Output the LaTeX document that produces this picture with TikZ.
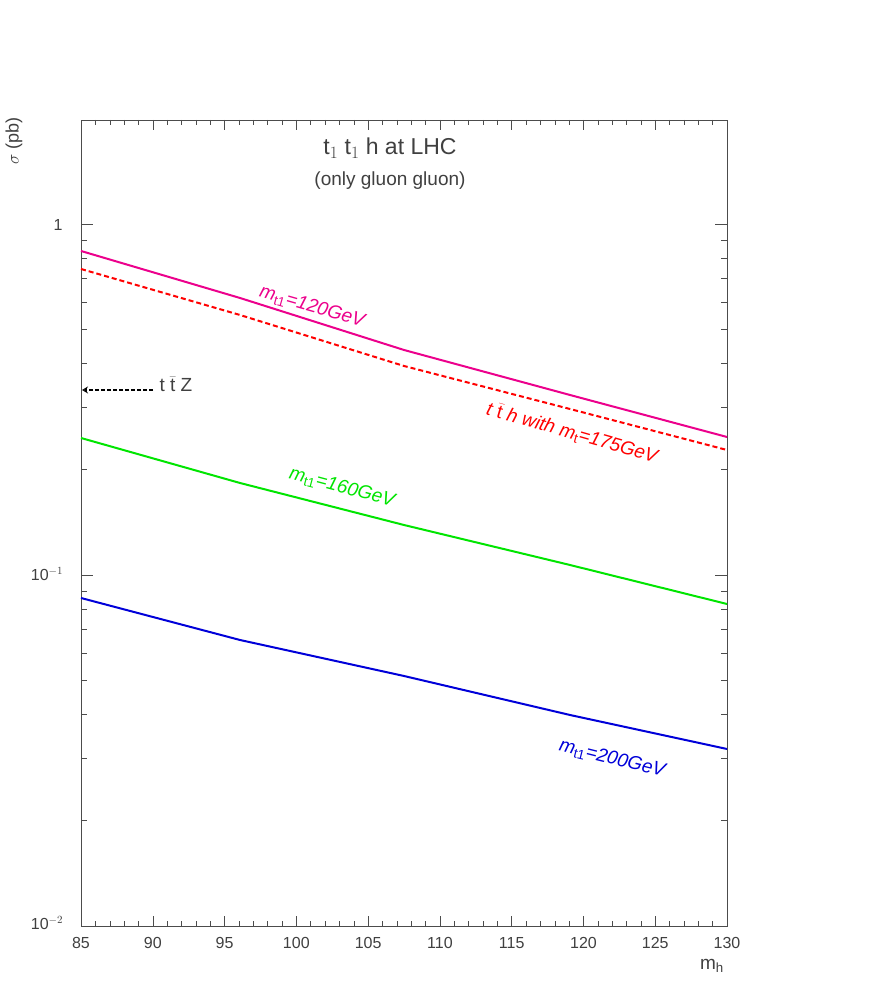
\documentclass[tikz,border=0pt]{standalone}
\usepackage{fontspec}
\setmainfont{Liberation Sans}
\usetikzlibrary{arrows.meta}
\begin{document}
\begin{tikzpicture}[x=1pt,y=1pt,
  ax/.style={draw=black!70,line width=0.6pt},
  lbl/.style={text=black!75,font=\fontsize{16}{18}\selectfont},
  clbl/.style={font=\fontsize{19}{21}\selectfont\itshape},
  curve/.style={line width=2pt}]
\useasboundingbox (0,0) rectangle (872,981);
\fill[white] (0,0) rectangle (872,981);
% frame
\draw[ax] (81,55) rectangle (727,861);
% x ticks
\foreach \m in {86,...,129}{
  \pgfmathsetmacro{\xx}{81+(\m-85)*14.3556}
  \pgfmathsetmacro{\len}{mod(\m,5)==0 ? 10 : 5}
  \draw[ax,line width=0.4pt] (\xx,55) -- ++(0,\len);
  \draw[ax,line width=0.4pt] (\xx,861) -- ++(0,-\len);
}
\foreach \m in {85,90,...,130}{
  \pgfmathsetmacro{\xx}{81+(\m-85)*14.3556}
  \node[lbl] (xl\m) at (\xx,38) {\m};
}
% y ticks
\foreach \d in {0,1,2}{
  \foreach \k in {1,...,9}{
    \pgfmathsetmacro{\yy}{55+351*(\d+log10(\k))}
    \pgfmathsetmacro{\len}{\k==1 ? 12 : 6}
    \pgfmathparse{\yy<862 ? 1 : 0}
    \ifnum\pgfmathresult=1
      \draw[ax,line width=0.4pt] (81,\yy) -- ++(\len,0);
      \draw[ax,line width=0.4pt] (727,\yy) -- ++(-\len,0);
    \fi
  }
}
\node[lbl] (y1) at (58,756) {1};
\node[lbl] (y2) at (47,407) {10$^{-1}$};
\node[lbl] (y3) at (47,58) {10$^{-2}$};
\node[lbl,rotate=90,font=\fontsize{18}{20}\selectfont] (ylab) at (14,840) {$\sigma$ (pb)};
\node[lbl,font=\fontsize{19}{21}\selectfont] (xlab) at (712,15) {m$_{\mathrm{h}}$};
% title
\node[lbl,font=\fontsize{23}{25}\selectfont] (t1) at (390,833) {t$_1$ t$_1$ h at LHC};
\node[lbl,font=\fontsize{19}{21}\selectfont] (t2) at (390,800) {(only gluon gluon)};
% curves
\draw[curve,magenta] (81,730) -- (240,683) -- (404,631) -- (570,586) -- (727,544);
\draw[curve,red,dash pattern=on 5pt off 3pt] (81,712) -- (240,666) -- (404,615) -- (570,572) -- (727,531);
\draw[curve,green!90!black] (81,543) -- (240,498) -- (404,456) -- (570,416) -- (727,377);
\draw[curve,blue!85!black] (81,383) -- (240,341) -- (404,305) -- (570,266) -- (727,232);
% labels
\node[clbl,magenta,rotate=-16] (lm) at (312,674) {m$_{\mathrm{t1}}$=120GeV};
\node[clbl,red,rotate=-16] (lr) at (572,548) {t $\bar{\mathrm{t}}$ h with m$_{\mathrm{t}}$=175GeV};
\node[clbl,green!90!black,rotate=-15] (lg) at (342,493) {m$_{\mathrm{t1}}$=160GeV};
\node[clbl,blue!85!black,rotate=-14] (lb) at (612,222) {m$_{\mathrm{t1}}$=200GeV};
% ttZ arrow
\coordinate (ae) at (82,591);
\node[lbl,font=\fontsize{19}{21}\selectfont,anchor=west] (ttz) at (156,597) {t $\bar{\mathrm{t}}$ Z};
\coordinate (as) at (153,591);
\draw[dash pattern=on 4pt off 2pt,line width=1.6pt,-{Stealth[open,length=6pt,width=7pt]}] (as) -- (ae);
\end{tikzpicture}
\end{document}
